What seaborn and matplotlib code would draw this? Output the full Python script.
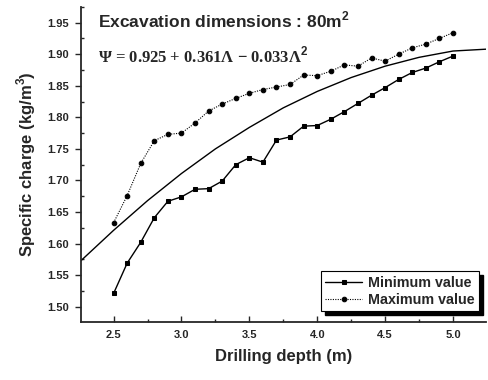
import numpy as np
import pandas as pd
import matplotlib
matplotlib.use("Agg")
import matplotlib.pyplot as plt
from matplotlib.patches import Rectangle
import seaborn as sns

# ---- data ----
depth = [2.5, 2.6, 2.7, 2.8, 2.9, 3.0, 3.1, 3.2, 3.3, 3.4, 3.5, 3.6, 3.7,
         3.8, 3.9, 4.0, 4.1, 4.2, 4.3, 4.4, 4.5, 4.6, 4.7, 4.8, 4.9, 5.0]
min_value = [1.521, 1.569, 1.602, 1.641, 1.667, 1.674, 1.686, 1.687, 1.699,
             1.725, 1.736, 1.729, 1.764, 1.769, 1.786, 1.787, 1.797, 1.809,
             1.822, 1.835, 1.847, 1.860, 1.871, 1.878, 1.888, 1.897]
max_value = [1.633, 1.676, 1.727, 1.763, 1.773, 1.775, 1.791, 1.810, 1.821,
             1.830, 1.838, 1.844, 1.848, 1.852, 1.867, 1.866, 1.873, 1.883,
             1.881, 1.894, 1.889, 1.900, 1.910, 1.916, 1.925, 1.934]
fit_depth = [2.25, 2.5, 2.75, 3.0, 3.25, 3.5, 3.75, 4.0, 4.25, 4.5, 4.75, 5.0, 5.25]
fit_value = [1.571, 1.621, 1.668, 1.711, 1.750, 1.784, 1.815, 1.841, 1.863,
             1.881, 1.895, 1.905, 1.908]
x_ticks = [2.5, 3.0, 3.5, 4.0, 4.5, 5.0]
y_ticks = [1.50, 1.55, 1.60, 1.65, 1.70, 1.75, 1.80, 1.85, 1.90, 1.95]

sns.set_style("ticks")
plt.rcParams['font.family'] = ['Liberation Sans', 'DejaVu Sans']
plt.rcParams['mathtext.fontset'] = 'custom'
plt.rcParams['mathtext.bf'] = 'Liberation Sans:bold'

fig = plt.figure(figsize=(4.88, 3.80), dpi=100)
ax = fig.add_axes([0.166, 0.153, 0.829, 0.829])

df_min = pd.DataFrame({"x": depth, "y": min_value})
df_max = pd.DataFrame({"x": depth, "y": max_value})
df_fit = pd.DataFrame({"x": fit_depth, "y": fit_value})

sns.lineplot(data=df_fit, x="x", y="y", ax=ax, color="black", lw=1.0)
sns.lineplot(data=df_min, x="x", y="y", ax=ax, color="black", lw=1.0,
             marker="s", markersize=3.5, markeredgecolor="black",
             label="Minimum value")
sns.lineplot(data=df_max, x="x", y="y", ax=ax, color="black", lw=0.8,
             linestyle=(0, (1, 1.2)), marker="o", markersize=3.3,
             markeredgecolor="black", label="Maximum value")

ax.set_xlim(2.26, 5.24)
ax.set_ylim(1.476, 1.975)
ax.set_xticks(x_ticks)
ax.set_yticks(y_ticks)
ax.set_xticklabels([f"{v:.1f}" for v in x_ticks], fontweight="bold", fontsize=8)
ax.set_yticklabels([f"{v:.2f}" for v in y_ticks], fontweight="bold", fontsize=8)
ax.xaxis.set_minor_locator(matplotlib.ticker.MultipleLocator(0.25))
ax.yaxis.set_minor_locator(matplotlib.ticker.MultipleLocator(0.025))
ax.tick_params(axis="x", which="major", direction="in", length=4, width=1, pad=6)
ax.tick_params(axis="x", which="minor", direction="in", length=2.5, width=1)
ax.tick_params(axis="y", which="major", direction="out", length=4, width=1, pad=5)
ax.tick_params(axis="y", which="minor", direction="in", length=2.5, width=1)
for s in ["top", "right"]:
    ax.spines[s].set_visible(False)
for s in ["left", "bottom"]:
    ax.spines[s].set_linewidth(1.3)

ax.set_xlabel("Drilling depth (m)", fontweight="bold", fontsize=12, labelpad=6)
ax.set_ylabel(r"Specific charge (kg/m$^\mathbf{3}$)", fontweight="bold",
              fontsize=12, labelpad=6)

ax.text(0.042, 0.99, r"Excavation dimensions : 80m$^\mathbf{2}$",
        transform=ax.transAxes, fontweight="bold", fontsize=12.5, va="top")
ax.text(0.042, 0.875,
        "\u03A8 = 0.925 + 0.361\u039B \u2212 0.033\u039B$^\\mathbf{2}$",
        transform=ax.transAxes, fontweight="bold", fontsize=12, va="top",
        family=["Liberation Serif", "DejaVu Serif"])

leg = ax.legend(loc="lower right", bbox_to_anchor=(0.984, 0.035), frameon=True,
                fancybox=False, edgecolor="black", framealpha=1,
                prop={"weight": "bold", "size": 10.3}, handlelength=2.6,
                borderpad=0.3, labelspacing=0.2, handletextpad=0.4,
                borderaxespad=0)
leg.get_frame().set_linewidth(0.8)
leg.get_frame().set_facecolor("white")

# drop shadow behind the legend box (figure-level artist under the legend)
fig.canvas.draw()
bb = leg.get_frame().get_window_extent()
x0, y0 = fig.transFigure.inverted().transform((bb.x0 + 4, bb.y0 - 4))
x1, y1 = fig.transFigure.inverted().transform((bb.x1 + 4, bb.y1 - 4))
shadow = Rectangle((x0, y0), x1 - x0, y1 - y0, transform=fig.transFigure,
                   facecolor="black", edgecolor="black", zorder=-1)
fig.patches.append(shadow)
ax.set_facecolor("none")
fig.patch.set_facecolor("white")

fig.savefig("out.png", dpi=100)
